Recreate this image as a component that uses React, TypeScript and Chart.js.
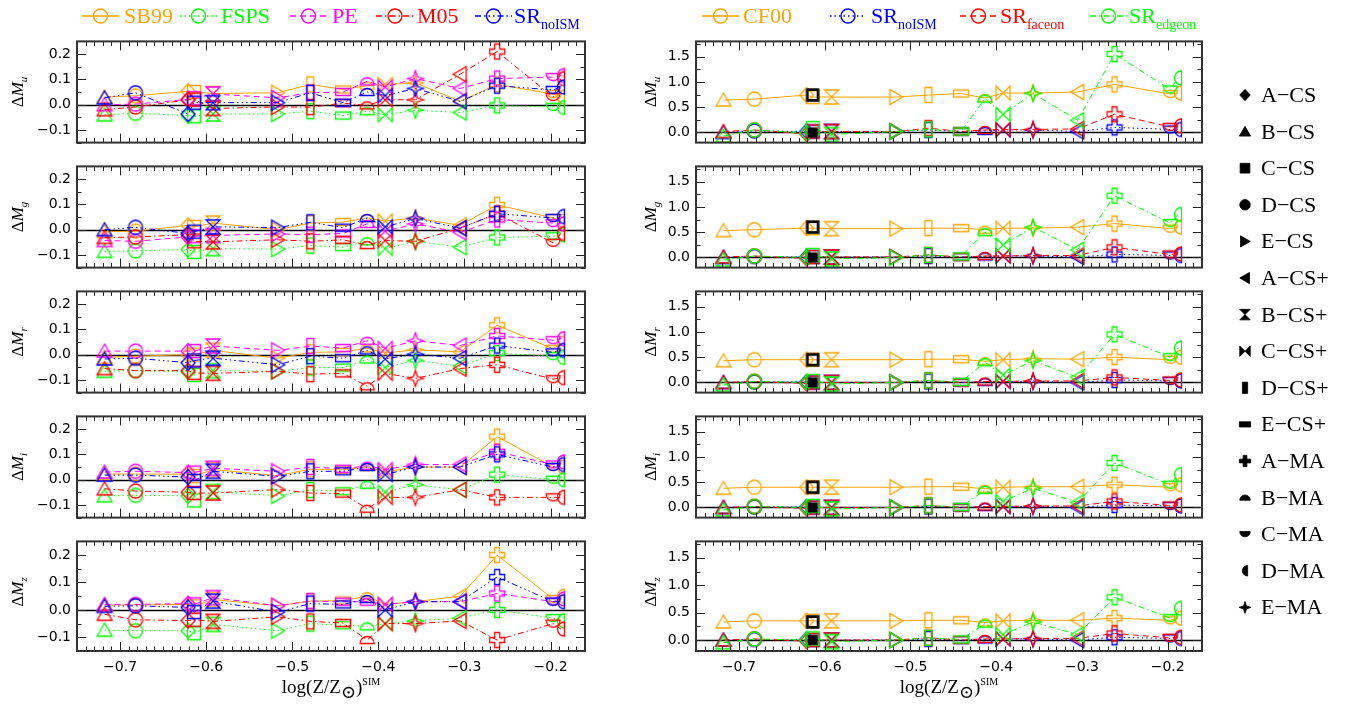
import React, { useEffect, useRef } from 'react';
import { Chart, registerables } from 'chart.js';

Chart.register(...registerables);

// ---------------- data ----------------
const galaxies = ['A−CS', 'B−CS', 'C−CS', 'D−CS', 'E−CS', 'A−CS+', 'B−CS+', 'C−CS+', 'D−CS+', 'E−CS+', 'A−MA', 'B−MA', 'C−MA', 'D−MA', 'E−MA'];
const logZ = [-0.621, -0.718, -0.614, -0.682, -0.517, -0.305, -0.592, -0.392, -0.479, -0.441, -0.262, -0.413, -0.197, -0.188, -0.357];
const shapeOf = ['diamond', 'triUp', 'square', 'circle', 'triRight', 'triLeft', 'hourglass', 'bowtie', 'tallRect', 'wideRect', 'plus', 'halfTop', 'halfBottom', 'halfLeft', 'star4'];
const bands = ['u', 'g', 'r', 'i', 'z'];
const xTicks = [-0.7, -0.6, -0.5, -0.4, -0.3, -0.2];
const yTicksLeft = [-0.1, 0.0, 0.1, 0.2];
const yTicksRight = [0.0, 0.5, 1.0, 1.5];

// left column (order of galaxies as above)
const SB99_u = [0.053, 0.030, 0.050, 0.035, 0.047, 0.013, 0.044, 0.080, 0.080, 0.060, 0.080, 0.075, 0.042, 0.030, 0.086];
const FSPS_u = [-0.043, -0.040, -0.046, -0.034, -0.037, -0.031, -0.037, -0.040, -0.026, -0.043, -0.003, -0.026, -0.009, -0.011, -0.022];
const PE_u = [0.021, 0.000, 0.025, 0.002, 0.027, 0.064, 0.042, 0.070, 0.047, 0.050, 0.103, 0.092, 0.109, 0.115, 0.103];
const M05_u = [0.019, -0.020, 0.020, -0.009, -0.009, 0.120, -0.015, 0.019, -0.010, 0.006, 0.210, -0.003, 0.030, 0.103, 0.019];
const SRnoISM_u = [-0.037, 0.027, 0.008, 0.047, 0.008, 0.013, 0.008, 0.036, 0.047, 0.008, 0.075, 0.050, 0.058, 0.070, 0.064];

const SB99_g = [0.017, -0.008, 0.011, -0.006, 0.000, 0.017, 0.026, 0.034, 0.026, 0.030, 0.098, 0.046, 0.046, 0.034, 0.046];
const FSPS_g = [-0.078, -0.086, -0.088, -0.084, -0.077, -0.069, -0.075, -0.075, -0.063, -0.069, -0.031, -0.046, -0.026, -0.020, -0.046];
const PE_g = [-0.029, -0.043, -0.026, -0.046, -0.017, -0.011, -0.023, -0.006, -0.020, -0.015, 0.040, 0.023, 0.026, 0.023, 0.023];
const M05_g = [-0.020, -0.031, -0.046, -0.029, -0.040, 0.006, -0.048, -0.043, -0.046, -0.040, 0.063, -0.061, -0.052, -0.015, -0.046];
const SRnoISM_g = [-0.015, 0.000, -0.008, 0.009, 0.008, 0.006, 0.011, 0.011, 0.029, 0.008, 0.063, 0.046, 0.046, 0.052, 0.044];

const SB99_r = [0.000, -0.011, 0.000, -0.006, -0.014, 0.011, 0.017, 0.006, 0.009, 0.011, 0.116, 0.025, 0.023, 0.045, 0.019];
const FSPS_r = [-0.068, -0.066, -0.080, -0.063, -0.066, -0.045, -0.063, -0.051, -0.051, -0.051, 0.006, -0.019, -0.006, -0.011, -0.023];
const PE_r = [0.014, 0.014, 0.014, 0.014, 0.017, 0.036, 0.034, 0.025, 0.034, 0.026, 0.074, 0.055, 0.057, 0.063, 0.055];
const M05_r = [-0.063, -0.055, -0.072, -0.063, -0.066, -0.055, -0.074, -0.074, -0.077, -0.074, -0.040, -0.125, -0.097, -0.091, -0.094];
const SRnoISM_r = [-0.032, -0.017, -0.023, -0.014, -0.040, -0.014, -0.014, -0.017, -0.006, -0.014, 0.036, 0.017, 0.009, 0.017, 0.002];

const SB99_i = [0.022, 0.022, 0.014, 0.022, 0.016, 0.050, 0.040, 0.030, 0.041, 0.039, 0.170, 0.050, 0.050, 0.050, 0.050];
const FSPS_i = [-0.064, -0.064, -0.082, -0.062, -0.064, -0.040, -0.047, -0.050, -0.041, -0.046, 0.020, -0.020, 0.000, 0.000, -0.020];
const PE_i = [0.028, 0.030, 0.028, 0.033, 0.033, 0.060, 0.045, 0.040, 0.050, 0.043, 0.110, 0.055, 0.060, 0.070, 0.060];
const M05_i = [-0.050, -0.036, -0.053, -0.045, -0.039, -0.040, -0.053, -0.070, -0.053, -0.055, -0.070, -0.115, -0.070, -0.070, -0.070];
const SRnoISM_i = [0.010, 0.018, -0.005, 0.018, 0.013, 0.050, 0.033, 0.020, 0.033, 0.033, 0.100, 0.050, 0.050, 0.060, 0.050];

const SB99_z = [0.020, 0.018, 0.013, 0.018, 0.015, 0.050, 0.038, 0.020, 0.032, 0.034, 0.200, 0.050, 0.040, 0.050, 0.030];
const FSPS_z = [-0.076, -0.074, -0.085, -0.076, -0.076, -0.030, -0.053, -0.050, -0.050, -0.056, 0.000, -0.060, -0.030, -0.040, -0.040];
const PE_z = [0.023, 0.020, 0.020, 0.020, 0.015, 0.030, 0.045, 0.020, 0.032, 0.030, 0.060, 0.030, 0.030, 0.040, 0.030];
const M05_z = [-0.039, -0.016, -0.036, -0.036, -0.025, -0.040, -0.042, -0.050, -0.042, -0.048, -0.110, -0.110, -0.050, -0.070, -0.050];
const SRnoISM_z = [0.009, 0.013, -0.008, 0.015, -0.008, 0.030, 0.032, 0.000, 0.023, 0.020, 0.120, 0.040, 0.030, 0.030, 0.030];

// right column
const CF00_u = [0.74, 0.64, 0.70, 0.66, 0.70, 0.80, 0.70, 0.78, 0.74, 0.77, 0.95, 0.68, 0.76, 0.78, 0.78];
const SRn_u = [0.02, 0.00, 0.02, 0.03, 0.02, 0.02, 0.02, 0.05, 0.05, 0.02, 0.10, 0.03, 0.06, 0.06, 0.05];
const SRface_u = [-0.03, 0.02, 0.02, 0.05, 0.02, 0.07, 0.02, 0.06, 0.085, 0.02, 0.36, 0.05, 0.11, 0.13, 0.06];
const SRedge_u = [-0.01, -0.07, 0.085, 0.05, 0.02, 0.24, -0.04, 0.36, 0.06, 0.02, 1.55, 0.67, 0.85, 1.08, 0.77];

const CF00_g = [0.58, 0.53, 0.58, 0.55, 0.57, 0.60, 0.57, 0.58, 0.58, 0.58, 0.67, 0.55, 0.57, 0.60, 0.58];
const SRn_g = [0.01, 0.00, 0.01, 0.02, 0.01, 0.01, 0.01, 0.03, 0.03, 0.01, 0.06, 0.02, 0.04, 0.04, 0.03];
const SRface_g = [-0.02, 0.01, 0.01, 0.03, 0.01, 0.04, 0.01, 0.03, 0.05, 0.01, 0.20, 0.03, 0.06, 0.07, 0.04];
const SRedge_g = [0.00, -0.05, 0.05, 0.03, 0.00, 0.15, -0.03, 0.25, 0.05, 0.02, 1.22, 0.50, 0.68, 0.85, 0.60];

const CF00_r = [0.45, 0.43, 0.45, 0.45, 0.45, 0.46, 0.45, 0.45, 0.46, 0.46, 0.50, 0.42, 0.45, 0.50, 0.47];
const SRn_r = [0.01, 0.00, 0.00, 0.01, 0.00, 0.00, 0.00, 0.02, 0.02, 0.00, 0.05, 0.01, 0.03, 0.03, 0.02];
const SRface_r = [-0.02, 0.00, 0.00, 0.02, 0.00, 0.03, 0.00, 0.02, 0.04, 0.00, 0.10, 0.02, 0.04, 0.05, 0.03];
const SRedge_r = [0.00, -0.05, 0.03, 0.02, 0.00, 0.10, -0.03, 0.15, 0.04, 0.01, 0.95, 0.40, 0.50, 0.68, 0.43];

const CF00_i = [0.40, 0.38, 0.40, 0.40, 0.40, 0.41, 0.40, 0.40, 0.41, 0.41, 0.45, 0.37, 0.40, 0.45, 0.41];
const SRn_i = [0.01, 0.00, 0.00, 0.01, 0.00, 0.00, 0.00, 0.02, 0.02, 0.00, 0.05, 0.01, 0.03, 0.03, 0.02];
const SRface_i = [-0.02, 0.00, 0.00, 0.02, 0.00, 0.03, 0.00, 0.02, 0.04, 0.00, 0.12, 0.02, 0.04, 0.05, 0.03];
const SRedge_i = [0.00, -0.05, 0.03, 0.02, 0.00, 0.10, -0.03, 0.12, 0.04, 0.01, 0.88, 0.35, 0.45, 0.65, 0.38];

const CF00_z = [0.35, 0.33, 0.35, 0.35, 0.35, 0.36, 0.35, 0.35, 0.36, 0.36, 0.40, 0.32, 0.36, 0.40, 0.36];
const SRn_z = [0.01, 0.00, 0.00, 0.01, 0.00, 0.00, 0.00, 0.02, 0.02, 0.00, 0.05, 0.01, 0.03, 0.03, 0.02];
const SRface_z = [-0.02, 0.00, 0.00, 0.02, 0.00, 0.03, 0.00, 0.02, 0.04, 0.00, 0.12, 0.02, 0.04, 0.05, 0.03];
const SRedge_z = [0.00, -0.05, 0.03, 0.02, 0.00, 0.10, -0.03, 0.10, 0.04, 0.01, 0.78, 0.30, 0.40, 0.58, 0.33];

// black reference marks at C-CS in the right column (open, filled)
const blackOpen_dM = [0.74, 0.60, 0.45, 0.40, 0.33];
const blackFilled_dM = [0.00, 0.00, 0.00, 0.00, 0.00];

// ---------------- styles ----------------
const ORANGE = '#FFA500', GREEN = '#00FF00', MAGENTA = '#FF00FF', RED = '#FF0000', BLUE = '#0000FF';
const DOT = [1.5, 3], DASH = [6, 4], DASHDOT = [6, 3, 1.5, 3], DASH3DOT = [6, 3, 1.5, 3, 1.5, 3, 1.5, 3];

const leftSeries = [
  { label: 'SB99', sub: '', color: ORANGE, dash: [] as number[], data: [SB99_u, SB99_g, SB99_r, SB99_i, SB99_z] },
  { label: 'FSPS', sub: '', color: GREEN, dash: DOT, data: [FSPS_u, FSPS_g, FSPS_r, FSPS_i, FSPS_z] },
  { label: 'PE', sub: '', color: MAGENTA, dash: DASH, data: [PE_u, PE_g, PE_r, PE_i, PE_z] },
  { label: 'M05', sub: '', color: RED, dash: DASHDOT, data: [M05_u, M05_g, M05_r, M05_i, M05_z] },
  { label: 'SR', sub: 'noISM', color: BLUE, dash: DASH3DOT, data: [SRnoISM_u, SRnoISM_g, SRnoISM_r, SRnoISM_i, SRnoISM_z] },
];
const rightSeries = [
  { label: 'CF00', sub: '', color: ORANGE, dash: [] as number[], data: [CF00_u, CF00_g, CF00_r, CF00_i, CF00_z] },
  { label: 'SR', sub: 'noISM', color: BLUE, dash: DOT, data: [SRn_u, SRn_g, SRn_r, SRn_i, SRn_z] },
  { label: 'SR', sub: 'faceon', color: RED, dash: DASH, data: [SRface_u, SRface_g, SRface_r, SRface_i, SRface_z] },
  { label: 'SR', sub: 'edgeon', color: GREEN, dash: DASHDOT, data: [SRedge_u, SRedge_g, SRedge_r, SRedge_i, SRedge_z] },
];

// layout
const ROW_TOP = [33, 158, 283, 408, 533];
const PH = 118;
const COL_LEFT = [77, 696];
const COL_W = [508, 506];
const X_MIN = -0.75, X_MAX = -0.16;

// ---------------- markers ----------------
const POLYS: Record<string, number[][]> = {
  diamond: [[0, -7.5], [7, 0], [0, 7.5], [-7, 0]],
  triUp: [[-7.5, 6], [7.5, 6], [0, -7]],
  square: [[-6.5, -6.5], [6.5, -6.5], [6.5, 6.5], [-6.5, 6.5]],
  triRight: [[-6, -7.5], [-6, 7.5], [7, 0]],
  triLeft: [[6, -7.5], [6, 7.5], [-7, 0]],
  hourglass: [[-7, -7], [7, -7], [-7, 7], [7, 7]],
  bowtie: [[-7, -7], [-7, 7], [7, -7], [7, 7]],
  tallRect: [[-3.5, -7.5], [3.5, -7.5], [3.5, 7.5], [-3.5, 7.5]],
  wideRect: [[-7.5, -3.5], [7.5, -3.5], [7.5, 3.5], [-7.5, 3.5]],
  plus: [[-2.5, -7.5], [2.5, -7.5], [2.5, -2.5], [7.5, -2.5], [7.5, 2.5], [2.5, 2.5], [2.5, 7.5], [-2.5, 7.5], [-2.5, 2.5], [-7.5, 2.5], [-7.5, -2.5], [-2.5, -2.5]],
  star4: [[0, -8], [2, -2], [8, 0], [2, 2], [0, 8], [-2, 2], [-8, 0], [-2, -2]],
};

function tracePath(g: CanvasRenderingContext2D, shape: string, k: number) {
  const P = POLYS[shape];
  if (P) {
    g.moveTo(P[0][0] * k, P[0][1] * k);
    for (let i = 1; i < P.length; i++) g.lineTo(P[i][0] * k, P[i][1] * k);
    g.closePath();
    return;
  }
  const r = 7 * k, c = 3.5 * k;
  if (shape === 'circle') g.arc(0, 0, r, 0, Math.PI * 2);
  else if (shape === 'halfTop') { g.arc(0, c, r, Math.PI, Math.PI * 2); g.closePath(); }
  else if (shape === 'halfBottom') { g.arc(0, -c, r, 0, Math.PI); g.closePath(); }
  else if (shape === 'halfLeft') { g.arc(c, 0, r, Math.PI / 2, Math.PI * 1.5); g.closePath(); }
}

function svgPath(shape: string, k: number): string {
  const P = POLYS[shape];
  if (P) return 'M' + P.map(p => `${p[0] * k} ${p[1] * k}`).join(' L') + ' Z';
  const r = 7 * k, c = 3.5 * k;
  if (shape === 'circle') return `M ${-r} 0 A ${r} ${r} 0 1 0 ${r} 0 A ${r} ${r} 0 1 0 ${-r} 0 Z`;
  if (shape === 'halfTop') return `M ${-r} ${c} A ${r} ${r} 0 0 1 ${r} ${c} Z`;
  if (shape === 'halfBottom') return `M ${-r} ${-c} A ${r} ${r} 0 0 0 ${r} ${-c} Z`;
  return `M ${c} ${-r} A ${r} ${r} 0 0 0 ${c} ${r} Z`;
}

const markerCache = new Map<string, HTMLCanvasElement>();
function marker(shape: string, color: string, filled: boolean, lw = 1.3, k = 1): HTMLCanvasElement {
  const key = [shape, color, filled, lw, k].join('|');
  const hit = markerCache.get(key);
  if (hit) return hit;
  const s = 22;
  const c = document.createElement('canvas');
  c.width = s; c.height = s;
  const g = c.getContext('2d')!;
  g.translate(s / 2, s / 2);
  g.beginPath();
  tracePath(g, shape, k);
  if (filled) { g.fillStyle = color; g.fill(); }
  g.strokeStyle = color;
  g.lineWidth = lw;
  g.lineJoin = 'miter';
  g.stroke();
  markerCache.set(key, c);
  return c;
}

const fmt = (v: number, d: number) => (v < -1e-9 ? '−' : '') + Math.abs(v).toFixed(d);

function buildConfig(col: number, row: number, ML: number, MT: number, MR: number, MB: number): any {
  const isBottom = row === 4;
  const series = col === 0 ? leftSeries : rightSeries;
  const order = logZ.map((_, i) => i).sort((a, b) => logZ[a] - logZ[b]);
  const datasets: any[] = series.map((s, k) => {
    const vals = s.data[row];
    return {
      label: s.label + s.sub,
      data: order.map(i => ({ x: logZ[i], y: vals[i] })),
      borderColor: s.color,
      backgroundColor: s.color,
      borderWidth: 1,
      borderDash: s.dash,
      pointStyle: (c: any) => marker(shapeOf[order[c.dataIndex]], s.color, false),
      pointRadius: 5,
      showLine: true,
      fill: false,
      tension: 0,
      order: series.length - k + 1,
    };
  });
  if (col === 1) {
    datasets.push({
      label: 'ref',
      data: [{ x: logZ[2], y: blackOpen_dM[row] }, { x: logZ[2], y: blackFilled_dM[row] }],
      showLine: false,
      borderColor: '#000',
      pointStyle: (c: any) => (c.dataIndex === 0 ? marker('square', '#000', false, 2.6, 0.82) : marker('square', '#000', true, 1, 0.72)),
      pointRadius: 5,
      order: 0,
    });
  }
  const yMin = col === 0 ? -0.15 : -0.2;
  const yMax = col === 0 ? 0.25 : 1.8;
  const yTicks = col === 0 ? yTicksLeft : yTicksRight;
  const yMajor = col === 0 ? 0.1 : 0.5;
  const yMinor = col === 0 ? 0.05 : 0.25;
  const xMajor = 0.1, xMinor = 0.01;
  const tickFont = { family: 'DejaVu Sans', size: 14 };

  const frame = {
    id: 'frame',
    beforeDatasetsDraw(chart: any) {
      const { ctx, chartArea: a } = chart;
      const y = chart.scales.y;
      const py = Math.round(y.getPixelForValue(0)) + 0.5;
      ctx.save();
      ctx.strokeStyle = '#000';
      ctx.lineWidth = 1.3;
      ctx.beginPath();
      ctx.moveTo(a.left, py);
      ctx.lineTo(a.right, py);
      ctx.stroke();
      ctx.restore();
    },
    afterDraw(chart: any) {
      const { ctx, chartArea: a } = chart;
      const xs = chart.scales.x, ys = chart.scales.y;
      ctx.save();
      ctx.strokeStyle = '#222';
      ctx.lineWidth = 1;
      ctx.beginPath();
      const isMaj = (v: number, m: number) => Math.abs(v / m - Math.round(v / m)) < 1e-6;
      for (let k = Math.ceil(X_MIN / xMinor - 1e-9); k * xMinor <= X_MAX + 1e-9; k++) {
        const v = k * xMinor;
        const L = isMaj(v, xMajor) ? 9 : 4.5;
        const px = Math.round(xs.getPixelForValue(v)) + 0.5;
        ctx.moveTo(px, a.bottom); ctx.lineTo(px, a.bottom - L);
        ctx.moveTo(px, a.top); ctx.lineTo(px, a.top + L);
      }
      for (let k = Math.ceil(yMin / yMinor - 1e-9); k * yMinor <= yMax + 1e-9; k++) {
        const v = k * yMinor;
        const L = isMaj(v, yMajor) ? 9 : 4.5;
        const py = Math.round(ys.getPixelForValue(v)) + 0.5;
        ctx.moveTo(a.left, py); ctx.lineTo(a.left + L, py);
        ctx.moveTo(a.right, py); ctx.lineTo(a.right - L, py);
      }
      ctx.stroke();
      ctx.strokeStyle = '#333';
      ctx.lineWidth = 2;
      ctx.strokeRect(a.left, a.top, a.right - a.left, a.bottom - a.top);
      ctx.restore();
    },
  };

  return {
    type: 'line',
    data: { datasets },
    plugins: [frame],
    options: {
      responsive: false,
      maintainAspectRatio: false,
      animation: false,
      events: [],
      devicePixelRatio: 1,
      layout: { padding: { left: 0, top: MT, right: MR, bottom: 0 } },
      plugins: { legend: { display: false }, tooltip: { enabled: false } },
      scales: {
        x: {
          type: 'linear',
          min: X_MIN,
          max: X_MAX,
          grid: { display: false, drawTicks: false },
          border: { display: false },
          afterBuildTicks: (s: any) => { s.ticks = xTicks.map(v => ({ value: v })); },
          afterFit: (s: any) => { s.height = MB; },
          ticks: {
            display: isBottom,
            autoSkip: false,
            maxRotation: 0,
            padding: 8,
            color: '#000',
            font: tickFont,
            callback: (v: any) => fmt(Number(v), 1),
          },
        },
        y: {
          type: 'linear',
          min: yMin,
          max: yMax,
          grid: { display: false, drawTicks: false },
          border: { display: false },
          afterBuildTicks: (s: any) => { s.ticks = yTicks.map(v => ({ value: v })); },
          afterFit: (s: any) => { s.width = ML; },
          ticks: {
            autoSkip: false,
            padding: 6,
            color: '#000',
            font: tickFont,
            callback: (v: any) => fmt(Number(v), 1),
          },
        },
      },
    },
  };
}

function Panel({ col, row }: { col: number; row: number }) {
  const ref = useRef<HTMLCanvasElement>(null);
  const isBottom = row === 4;
  const ML = 70, MT = 6, MR = 6, MB = isBottom ? 32 : 6;
  const pl = COL_LEFT[col], pt = ROW_TOP[row], pw = COL_W[col];
  const cw = pw + ML + MR, chh = PH + MT + MB;
  useEffect(() => {
    const chart = new Chart(ref.current as HTMLCanvasElement, buildConfig(col, row, ML, MT, MR, MB));
    return () => chart.destroy();
  }, [col, row]);
  return (
    <canvas
      ref={ref}
      width={cw}
      height={chh}
      style={{ position: 'absolute', left: pl - ML, top: pt - MT, width: cw, height: chh }}
    />
  );
}

const SERIF = "'Liberation Serif', 'DejaVu Serif', serif";

function LegendItem({ x0, x1, tx, color, dash, label, sub }: any) {
  const yc = 16;
  return (
    <g>
      <line x1={x0} y1={yc} x2={x1} y2={yc} stroke={color} strokeWidth={1.3} strokeDasharray={dash.length ? dash.join(' ') : undefined} />
      <circle cx={(x0 + x1) / 2} cy={yc} r={7} fill="none" stroke={color} strokeWidth={1.4} />
      <text x={tx} y={23} fill={color} fontFamily={SERIF} fontSize={22}>
        {label}
        {sub ? <tspan fontSize={14} dy={6}>{sub}</tspan> : null}
      </text>
    </g>
  );
}

function Overlay() {
  const leftPos = [[82, 119, 124], [180, 217, 221], [290, 327, 332], [376, 414, 417], [475, 512, 514]];
  const rightPos = [[702, 739, 743], [830, 866, 871], [960, 997, 1000], [1090, 1127, 1129]];
  const titleX = [23, 656];
  return (
    <svg width={1356} height={707} style={{ position: 'absolute', left: 0, top: 0, pointerEvents: 'none' }}>
      {leftSeries.map((s, i) => (
        <LegendItem key={'l' + i} x0={leftPos[i][0]} x1={leftPos[i][1]} tx={leftPos[i][2]} color={s.color} dash={s.dash} label={s.label} sub={s.sub} />
      ))}
      {rightSeries.map((s, i) => (
        <LegendItem key={'r' + i} x0={rightPos[i][0]} x1={rightPos[i][1]} tx={rightPos[i][2]} color={s.color} dash={s.dash} label={s.label} sub={s.sub} />
      ))}
      {[0, 1].map(col =>
        bands.map((b, row) => (
          <text
            key={'t' + col + row}
            transform={`translate(${titleX[col]}, ${ROW_TOP[row] + PH / 2}) rotate(-90)`}
            textAnchor="middle"
            fontFamily={SERIF}
            fontSize={17}
            fill="#000"
          >
            Δ<tspan fontStyle="italic">M</tspan>
            <tspan fontStyle="italic" fontSize={11} dy={4}>{b}</tspan>
          </text>
        ))
      )}
      {[0, 1].map(col => (
        <text key={'xl' + col} x={COL_LEFT[col] + COL_W[col] / 2} y={693} textAnchor="middle" fontFamily={SERIF} fontSize={19} fill="#000">
          log(Z/Z<tspan fontSize={18} dy={5}>⊙</tspan>
          <tspan dy={-5}>)</tspan>
          <tspan fontSize={10} dy={-8}>SIM</tspan>
        </text>
      ))}
      {galaxies.map((gname, i) => {
        const yc = 95 + i * 36.6;
        return (
          <g key={'m' + i}>
            <path d={svgPath(shapeOf[i], 0.75)} transform={`translate(1245, ${yc})`} fill="#000" stroke="#000" strokeWidth={0.8} />
            <text x={1261} y={yc + 7} fontFamily={SERIF} fontSize={22} fill="#000">{gname}</text>
          </g>
        );
      })}
    </svg>
  );
}

export default function App() {
  return (
    <div style={{ position: 'absolute', left: 0, top: 0, width: 1356, height: 707, background: '#fff', overflow: 'hidden' }}>
      {[0, 1].map(col => bands.map((_, row) => <Panel key={col + '-' + row} col={col} row={row} />))}
      <Overlay />
    </div>
  );
}
